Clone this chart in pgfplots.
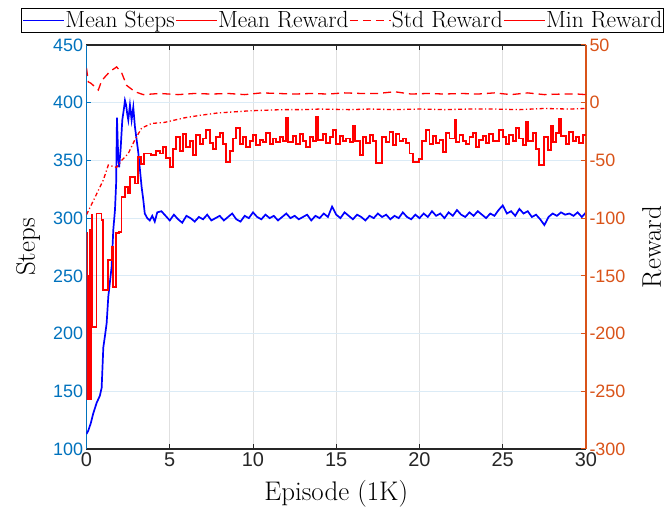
\documentclass[border=0pt]{standalone}
\usepackage{pgfplots}
\pgfplotsset{compat=1.18}
\usepackage{fontspec}
\newfontfamily\tickfont{Liberation Sans}
\definecolor{leftax}{rgb}{0,0.447,0.741}
\definecolor{rightax}{rgb}{0.85,0.325,0.098}
\definecolor{axgray}{rgb}{0.15,0.15,0.15}

% Mean steps per episode block
\pgfplotstableread{
x y
0.00 113
0.11 116
0.25 122
0.41 131
0.61 140
0.80 146
0.91 153
1.01 188
1.11 198
1.21 209
1.31 232
1.41 245
1.51 258
1.61 290
1.71 307
1.78 330
1.83 387
1.90 355
1.96 344
2.05 360
2.15 385
2.25 395
2.31 402
2.38 398
2.45 390
2.51 385
2.61 398
2.71 385
2.81 396
2.91 379
3.11 357
3.31 327
3.41 316
3.50 304
3.65 300
3.80 298
3.95 302
4.10 297
4.25 305
4.50 306
4.75 302
5.00 298
5.25 303
5.50 299
5.75 296
6.00 302
6.25 300
6.50 297
6.75 301
7.00 299
7.25 303
7.50 298
7.75 300
8.00 302
8.25 298
8.50 301
8.75 304
9.00 299
9.25 297
9.50 302
9.75 300
10.00 305
10.25 301
10.50 299
10.75 303
11.00 300
11.25 302
11.50 298
11.75 301
12.00 304
12.25 300
12.50 302
12.75 299
13.00 301
13.25 303
13.50 298
13.75 302
14.00 300
14.25 304
14.50 301
14.75 310
15.00 303
15.25 300
15.50 305
15.75 302
16.00 299
16.25 303
16.50 301
16.75 298
17.00 302
17.25 300
17.50 304
17.75 301
18.00 303
18.25 299
18.50 302
18.75 300
19.00 305
19.25 301
19.50 299
19.75 303
20.00 300
20.25 304
20.50 301
20.75 306
21.00 302
21.25 304
21.50 300
21.75 305
22.00 302
22.25 307
22.50 303
22.75 301
23.00 305
23.25 302
23.50 306
23.75 303
24.00 300
24.25 304
24.50 302
24.75 307
25.00 311
25.25 304
25.50 306
25.75 302
26.00 308
26.25 304
26.50 306
26.75 301
27.00 303
27.25 299
27.50 294
27.75 301
28.00 304
28.25 302
28.50 305
28.75 303
29.00 304
29.25 302
29.50 305
29.75 301
30.00 305
}\steps

% Mean reward (running)
\pgfplotstableread{
x y
0.00 -97
0.51 -82
1.01 -67
1.31 -54
1.55 -55
1.81 -56
2.11 -50
2.51 -44
2.91 -32
3.31 -22
3.91 -18
4.71 -17
5.31 -15
5.92 -13
6.80 -11
7.82 -9
8.80 -8
9.82 -7
10.80 -6.5
11.80 -6
13.00 -6
14.00 -5.5
15.80 -6
17.00 -5.5
18.50 -6
20.00 -5.5
21.50 -6
23.00 -5.5
24.50 -5.5
26.00 -6
27.50 -5
29.00 -5.5
30.00 -5
}\meanrew

% Std of reward
\pgfplotstableread{
x y
0.00 30
0.11 18
0.25 17
0.41 15
0.71 11
0.91 19
1.15 23
1.41 27
1.81 31
2.11 26
2.41 15
2.91 9.5
3.41 7
4.41 8
5.5 7
6.5 8
7.5 7.5
8.5 8
9.5 7
10.5 8.5
11.5 8
12.5 7.5
13.5 8
14.5 7.5
15.5 8.5
16.5 8
17.5 8
18.5 9.5
19.5 7.5
20.5 8
21.5 7.5
22.5 8
23.5 7.5
24.5 8.5
25.5 7
26.5 8.5
27.5 7
28.5 7.5
29.5 7.5
30.0 7
}\stdrew

\begin{document}
\begin{tikzpicture}
\pgfplotsset{
  every axis/.append style={
    scale only axis, width=499.5bp, height=404bp,
    xmin=0, xmax=30, xtick={0,5,...,30},
    tick align=inside, major tick length=5bp,
    /pgf/number format/assume math mode=true,
    xticklabel style={font=\tickfont\fontsize{20}{20}\selectfont, text=axgray},
    yticklabel style={font=\tickfont\fontsize{18}{18}\selectfont},
    label style={font=\fontsize{27}{27}\selectfont},
  },
}
\begin{axis}[
  axis x line*=box, axis y line*=left,
  x axis line style={axgray, line width=1.1bp},
  y axis line style={leftax, line width=1.3bp},
  xtick style={axgray, line width=1bp},
  ytick style={leftax, line width=1bp},
  yticklabel style={text=leftax},
  ymin=100, ymax=450, ytick={100,150,...,450},
  xmajorgrids, ymajorgrids,
  x grid style={black!12, line width=0.9bp},
  y grid style={leftax!14, line width=0.9bp},
  xlabel={Episode (1K)}, ylabel={Steps},
  xlabel style={yshift=-7bp},
  ylabel style={yshift=6bp},
]
\addplot[blue, line width=1.7bp] table[x=x,y=y]{\steps};
\coordinate (bl) at (rel axis cs:0,0);
\coordinate (tr) at (rel axis cs:1,1);
\end{axis}
\begin{axis}[
  axis x line=none, axis y line*=right,
  y axis line style={rightax, line width=1.3bp},
  ytick style={rightax, line width=1bp},
  yticklabel style={text=rightax},
  ymin=-300, ymax=50, ytick={-300,-250,...,50},
  ylabel={Reward},
  ylabel style={yshift=-10bp},
  legend image code/.code={\draw[#1] (0bp,0bp) -- (41bp,0bp);},
  legend style={at={(0.5125,1.0297)}, anchor=south, legend columns=4,
    draw=black, line width=1.1bp, inner xsep=1bp, inner ysep=1bp,
    font=\fontsize{23.5}{23.5}\selectfont,
    nodes={inner xsep=0.5bp, inner ysep=2bp}},
]
\addplot[red, line width=1.3bp, dash pattern=on 4bp off 2.5bp on 1.2bp off 2.5bp, forget plot] table[x=x,y=y]{\meanrew};
\addplot[red, line width=1.3bp, dash pattern=on 8bp off 5bp, forget plot] table[x=x,y=y]{\stdrew};
% minimum reward per block, drawn as stairs
\addplot[red, line width=1.9bp, forget plot] coordinates {
(0.00,-113)(0.02,-113)(0.02,-257)(0.08,-257)(0.08,-150)(0.12,-150)(0.12,-257)(0.19,-257)
(0.19,-110)(0.23,-110)(0.23,-257)(0.30,-257)(0.30,-97)(0.34,-97)(0.34,-194)(0.60,-194)
(0.60,-96)(0.90,-96)(0.90,-102)(1.00,-102)(1.00,-162)(1.30,-162)(1.30,-136)(1.50,-136)
(1.50,-125)(1.60,-125)(1.60,-160)(1.75,-160)(1.75,-113)(1.95,-113)(1.95,-112)(2.10,-112)
(2.10,-82)(2.30,-82)(2.30,-73)(2.50,-73)(2.50,-78)(2.60,-78)(2.60,-64)(2.90,-64)
(2.90,-70)(3.10,-70)(3.10,-47)(3.30,-47)(3.30,-53)(3.45,-53)(3.45,-44)(3.90,-44)
(3.90,-45)(4.2,-45)(4.2,-42)(4.4,-42)(4.4,-44)(4.6,-44)(4.6,-38)(4.8,-38)
(4.8,-48)(5.0,-48)(5.0,-56)(5.2,-56)(5.2,-40)(5.4,-40)(5.4,-30)(5.6,-30)
(5.6,-42)(5.8,-42)(5.8,-27)(6.0,-27)(6.0,-38)(6.2,-38)(6.2,-33)(6.4,-33)
(6.4,-45)(6.6,-45)(6.6,-28)(6.8,-28)(6.8,-36)(7.0,-36)(7.0,-31)(7.2,-31)
(7.2,-24)(7.4,-24)(7.4,-35)(7.6,-35)(7.6,-40)(7.8,-40)(7.8,-30)(8.0,-30)
(8.0,-26)(8.2,-26)(8.2,-36)(8.4,-36)(8.4,-51)(8.6,-51)(8.6,-42)(8.8,-42)
(8.8,-31)(9.0,-31)(9.0,-22)(9.2,-22)(9.2,-36)(9.4,-36)(9.4,-30)(9.6,-30)
(9.6,-38)(9.8,-38)(9.8,-33)(10.0,-33)(10.0,-28)(10.2,-28)(10.2,-37)(10.4,-37)
(10.4,-32)(10.6,-32)(10.6,-34)(10.8,-34)(10.8,-26)(11.0,-26)(11.0,-36)(11.2,-36)
(11.2,-31)(11.4,-31)(11.4,-34)(11.6,-34)(11.6,-30)(11.8,-30)(11.8,-33)(12.0,-33)
(12.0,-13)(12.1,-13)(12.1,-34)(12.4,-34)(12.4,-29)(12.6,-29)(12.6,-36)(12.8,-36)
(12.8,-27)(13.0,-27)(13.0,-33)(13.2,-33)(13.2,-38)(13.4,-38)(13.4,-30)(13.6,-30)
(13.6,-33)(13.8,-33)(13.8,-12)(13.9,-12)(13.9,-32)(14.2,-32)(14.2,-27)(14.4,-27)
(14.4,-35)(14.6,-35)(14.6,-30)(14.8,-30)(14.8,-24)(15.0,-24)(15.0,-36)(15.2,-36)
(15.2,-29)(15.4,-29)(15.4,-33)(15.6,-33)(15.6,-31)(15.8,-31)(15.8,-34)(16.0,-34)
(16.0,-20)(16.1,-20)(16.1,-33)(16.4,-33)(16.4,-45)(16.6,-45)(16.6,-30)(16.8,-30)
(16.8,-35)(17.0,-35)(17.0,-28)(17.2,-28)(17.2,-33)(17.4,-33)(17.4,-52)(17.75,-52)
(17.75,-30)(18.0,-30)(18.0,-34)(18.2,-34)(18.2,-25)(18.4,-25)(18.4,-37)(18.6,-37)
(18.6,-27)(18.8,-27)(18.8,-33)(19.0,-33)(19.0,-31)(19.2,-31)(19.2,-35)(19.4,-35)
(19.4,-44)(19.6,-44)(19.6,-51)(19.95,-51)(19.95,-49)(20.15,-49)(20.15,-33)(20.4,-33)
(20.4,-24)(20.6,-24)(20.6,-36)(20.8,-36)(20.8,-29)(21.0,-29)(21.0,-35)(21.2,-35)
(21.2,-32)(21.4,-32)(21.4,-43)(21.6,-43)(21.6,-26)(21.8,-26)(21.8,-31)(22.1,-31)
(22.1,-15)(22.2,-15)(22.2,-34)(22.4,-34)(22.4,-28)(22.6,-28)(22.6,-33)(22.8,-33)
(22.8,-36)(23.0,-36)(23.0,-30)(23.2,-30)(23.2,-26)(23.4,-26)(23.4,-38)(23.6,-38)
(23.6,-32)(23.8,-32)(23.8,-29)(24.0,-29)(24.0,-35)(24.2,-35)(24.2,-27)(24.4,-27)
(24.4,-33)(24.8,-33)(24.8,-24)(25.0,-24)(25.0,-30)(25.2,-30)(25.2,-36)(25.4,-36)
(25.4,-28)(25.6,-28)(25.6,-33)(25.8,-33)(25.8,-22)(26.0,-22)(26.0,-31)(26.2,-31)
(26.2,-37)(26.4,-37)(26.4,-17)(26.5,-17)(26.5,-33)(26.8,-33)(26.8,-26)(27.0,-26)
(27.0,-40)(27.2,-40)(27.2,-54)(27.5,-54)(27.5,-30)(27.7,-30)(27.7,-41)(27.9,-41)
(27.9,-20)(28.0,-20)(28.0,-34)(28.2,-34)(28.2,-26)(28.4,-26)(28.4,-14)(28.5,-14)
(28.5,-29)(28.8,-29)(28.8,-36)(29.0,-36)(29.0,-25)(29.2,-25)(29.2,-33)(29.4,-33)
(29.4,-30)(29.6,-30)(29.6,-35)(29.8,-35)(29.8,-28)(30.0,-28)
};
\addlegendimage{blue, line width=1.7bp}
\addlegendentry{Mean Steps}
\addlegendimage{red, line width=1.3bp}
\addlegendentry{Mean Reward}
\addlegendimage{red, line width=1.3bp, dash pattern=on 8bp off 5bp}
\addlegendentry{Std Reward}
\addlegendimage{red, line width=1.3bp}
\addlegendentry{Min Reward}
\end{axis}
\path ([xshift=-86.5bp,yshift=-66bp]bl) rectangle ([xshift=84bp,yshift=45bp]tr);
\end{tikzpicture}
\end{document}
